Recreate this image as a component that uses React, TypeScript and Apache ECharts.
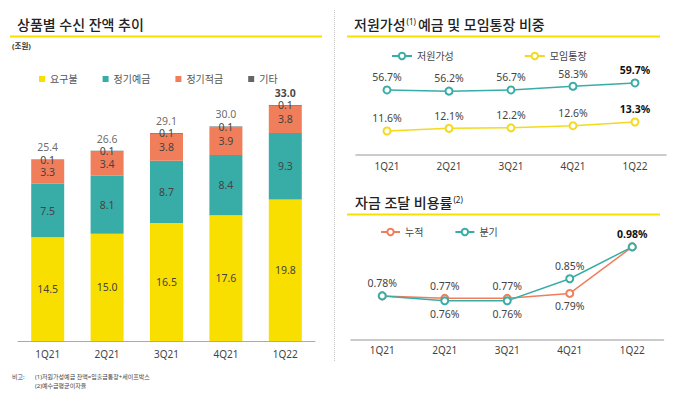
import React, { useEffect, useRef } from 'react';
import * as echarts from 'echarts';

// ---- data ----
const quarters = ['1Q21', '2Q21', '3Q21', '4Q21', '1Q22'];
const demandDeposit = [14.5, 15.0, 16.5, 17.6, 19.8]; // 요구불
const timeDeposit = [7.5, 8.1, 8.7, 8.4, 9.3]; // 정기예금
const installmentSavings = [3.3, 3.4, 3.8, 3.9, 3.8]; // 정기적금
const others = [0.1, 0.1, 0.1, 0.1, 0.1]; // 기타
const totals = [25.4, 26.6, 29.1, 30.0, 33.0];

const lowCostRatio = [56.7, 56.2, 56.7, 58.3, 59.7]; // 저원가성 (%)
const groupAccountRatio = [11.6, 12.1, 12.2, 12.6, 13.3]; // 모임통장 (%)

const cumulativeCost = [0.78, 0.77, 0.77, 0.79, 0.98]; // 누적 (%)
const quarterlyCost = [0.78, 0.76, 0.76, 0.85, 0.98]; // 분기 (%)

const FONT = "'Noto Sans', 'Noto Sans CJK KR', sans-serif";
const YELLOW = '#F9DF00';
const TEAL = '#38ADA8';
const ORANGE = '#F17E5A';
const GREY = '#666666';
const LINE_YELLOW = '#F3DA1E';

export default function App() {
  const ref = useRef<HTMLDivElement>(null);

  useEffect(() => {
    document.body.style.margin = '0';
    const chart = echarts.init(ref.current!, undefined, { renderer: 'svg' });

    const lbl = { fontFamily: FONT, fontSize: 10.5, color: '#444' };
    const boldLbl = { fontWeight: 'bold' as const, color: '#111' };
    const last = quarters.length - 1;

    const barSeries = (name: string, data: number[], color: string) => ({
      type: 'bar',
      name,
      data,
      stack: 'total',
      xAxisIndex: 0,
      yAxisIndex: 0,
      barWidth: 33,
      itemStyle: { color },
      label: {
        show: true,
        position: 'inside',
        formatter: (p: any) => Number(p.value).toFixed(1),
        ...lbl,
      },
    });

    const lineSeries = (
      name: string,
      values: number[],
      color: string,
      xi: number,
      yi: number,
      positions: (string | null)[],
      boldIdx: number[],
      dec: number,
    ) => ({
      type: 'line',
      name,
      xAxisIndex: xi,
      yAxisIndex: yi,
      data: values.map((v, i) => ({
        value: v,
        label:
          positions[i] === null
            ? { show: false }
            : {
                show: true,
                position: positions[i],
                ...(boldIdx.includes(i) ? boldLbl : {}),
              },
      })),
      symbol: 'emptyCircle',
      symbolSize: 7,
      lineStyle: { width: 1.5, color },
      itemStyle: { color, borderWidth: 1.5 },
      label: {
        show: true,
        distance: 3,
        formatter: (p: any) => `${Number(p.value).toFixed(dec)}%`,
        ...lbl,
      },
    });

    const catAxis = (gridIndex: number, margin: number, color: string, width: number) => ({
      type: 'category',
      gridIndex,
      data: quarters,
      boundaryGap: true,
      axisLine: { lineStyle: { color, width } },
      axisTick: { show: false },
      axisLabel: { fontFamily: FONT, fontSize: 10, color: '#444', margin },
    });

    const titleText = (x: number, y: number, text: string, rich?: any) => ({
      type: 'text',
      x,
      y,
      style: {
        text,
        fontFamily: FONT,
        fontSize: 14,
        fontWeight: 500,
        fill: '#222',
        verticalAlign: 'middle',
        rich,
      },
    });

    const titleRich = {
      t: { fontFamily: FONT, fontSize: 14, fontWeight: 500, fill: '#222' },
      s: { fontFamily: FONT, fontSize: 8, fill: '#222', verticalAlign: 'top', padding: [0, 2, 0, 1] },
    };

    const legendText = { fontFamily: FONT, fontSize: 10, color: '#444' };

    chart.setOption({
      animation: false,
      grid: [
        { left: 18, right: 365, top: 55, bottom: 57 },
        { left: 356, right: 14, top: 65, bottom: 243 },
        { left: 351, right: 16.5, top: 242, bottom: 58 },
      ],
      xAxis: [
        catAxis(0, 8, '#aaa', 1),
        catAxis(1, 6, '#bbb', 1.5),
        catAxis(2, 5, '#bbb', 1.5),
      ],
      yAxis: [
        { type: 'value', gridIndex: 0, min: 0, max: 40, show: false },
        { type: 'value', gridIndex: 1, min: 28.84, max: 67.4, show: false },
        { type: 'value', gridIndex: 1, min: 7.07, max: 24.07, show: false },
        { type: 'value', gridIndex: 2, min: 0.6, max: 1.0, show: false },
      ],
      legend: [
        {
          data: ['요구불', '정기예금', '정기적금', '기타'],
          left: 34,
          top: 69,
          icon: 'rect',
          itemWidth: 6,
          itemHeight: 6,
          itemGap: 25,
          textStyle: { ...legendText, color: '#555' },
        },
        {
          data: ['저원가성', '모임통장'],
          left: 386,
          top: 46,
          itemWidth: 20,
          itemHeight: 8,
          itemGap: 70,
          textStyle: legendText,
        },
        {
          data: ['누적', '분기'],
          left: 375,
          top: 222,
          itemWidth: 19,
          itemHeight: 8,
          itemGap: 31,
          textStyle: legendText,
        },
      ],
      series: [
        barSeries('요구불', demandDeposit, YELLOW),
        barSeries('정기예금', timeDeposit, TEAL),
        barSeries('정기적금', installmentSavings, ORANGE),
        barSeries('기타', others, GREY),
        {
          type: 'scatter',
          name: '합계',
          xAxisIndex: 0,
          yAxisIndex: 0,
          data: totals.map((v, i) => ({
            value: v,
            label: i === last ? boldLbl : {},
          })),
          symbol: 'circle',
          symbolSize: 4,
          itemStyle: { color: 'rgba(0,0,0,0)' },
          silent: true,
          z: 5,
          label: {
            show: true,
            position: 'top',
            distance: 5,
            formatter: (p: any) => Number(p.value).toFixed(1),
            ...lbl,
          },
        },
        lineSeries('저원가성', lowCostRatio, TEAL, 1, 1, ['top', 'top', 'top', 'top', 'top'], [last], 1),
        lineSeries('모임통장', groupAccountRatio, LINE_YELLOW, 1, 2, ['top', 'top', 'top', 'top', 'top'], [last], 1),
        lineSeries('누적', cumulativeCost, ORANGE, 2, 3, ['top', 'top', 'top', 'bottom', null], [], 2),
        lineSeries('분기', quarterlyCost, TEAL, 2, 3, [null, 'bottom', 'bottom', 'top', 'top'], [last], 2),
      ],
      graphic: [
        titleText(17, 24, '상품별 수신 잔액 추이'),
        {
          type: 'line',
          shape: { x1: 10, y1: 36.5, x2: 322, y2: 36.5 },
          style: { stroke: YELLOW, lineWidth: 2 },
        },
        {
          type: 'text',
          x: 12,
          y: 46,
          style: { text: '(조원)', fontFamily: FONT, fontSize: 7.5, fontWeight: 'bold', fill: '#333', verticalAlign: 'middle' },
        },
        titleText(354, 24, '{t|저원가성}{s|(1)}{t|예금 및 모임통장 비중}', titleRich),
        {
          type: 'line',
          shape: { x1: 347, y1: 36.5, x2: 660, y2: 36.5 },
          style: { stroke: YELLOW, lineWidth: 2 },
        },
        titleText(355, 202, '{t|자금 조달 비용률}{s|(2)}', titleRich),
        {
          type: 'line',
          shape: { x1: 347, y1: 214.5, x2: 660, y2: 214.5 },
          style: { stroke: YELLOW, lineWidth: 2 },
        },
        {
          type: 'line',
          shape: { x1: 334.5, y1: 10, x2: 334.5, y2: 362 },
          style: { stroke: '#c4c4c4', lineWidth: 1, lineDash: [1, 1] },
        },
        {
          type: 'text',
          x: 12,
          y: 377,
          style: { text: '비고:', fontFamily: FONT, fontSize: 6, fill: '#444', verticalAlign: 'middle' },
        },
        {
          type: 'text',
          x: 35,
          y: 377,
          style: { text: '(1)저원가성예금 잔액=입출금통장+세이프박스', fontFamily: FONT, fontSize: 6, fill: '#444', verticalAlign: 'middle' },
        },
        {
          type: 'text',
          x: 35,
          y: 386,
          style: { text: '(2)예수금평균이자율', fontFamily: FONT, fontSize: 6, fill: '#444', verticalAlign: 'middle' },
        },
      ],
    });

    return () => chart.dispose();
  }, []);

  return <div ref={ref} style={{ width: 680, height: 398 }} />;
}
